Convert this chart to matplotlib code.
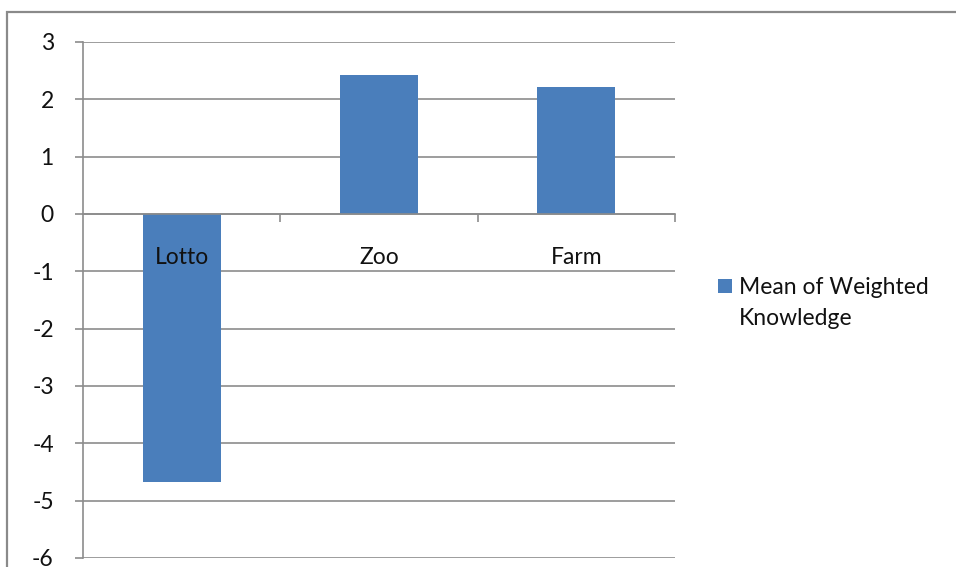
import matplotlib
matplotlib.use("Agg")
import matplotlib.pyplot as plt
from matplotlib.patches import Rectangle
from matplotlib.ticker import FixedLocator, NullFormatter

categories = ["Lotto", "Zoo", "Farm"]
values = [-4.67, 2.43, 2.22]
series_name = "Mean of Weighted\nKnowledge"
y_ticks = [3, 2, 1, 0, -1, -2, -3, -4, -5, -6]

W, H = 956, 567
plt.rcParams["font.family"] = ["Lato", "DejaVu Sans"]
fig = plt.figure(figsize=(W / 100, H / 100), dpi=100)

bar_color = "#4A7EBB"
grid_color = "#8C8C8C"
text_color = "#111111"

# chart frame
fig.patches.append(Rectangle((7 / W, -0.1), 1.2, 1 - 12 / H + 0.1,
                             transform=fig.transFigure, fill=False,
                             edgecolor="#8A8A8A", linewidth=1.6))

ax = fig.add_axes([83 / W, 1 - 558 / H, (675 - 83) / W, (558 - 42) / H])
x = list(range(len(categories)))
ax.bar(x, values, width=0.395, color=bar_color, zorder=1)
ax.set_xlim(-0.5, len(categories) - 0.5)
ax.set_ylim(-6, 3)

ax.set_yticks(y_ticks)
ax.set_yticklabels([str(t) for t in y_ticks])
ax.yaxis.grid(True, color=grid_color, linewidth=1.2)
ax.set_axisbelow(True)

# category axis sits on the zero line
for s in ["top", "right"]:
    ax.spines[s].set_visible(False)
ax.spines["left"].set_color(grid_color)
ax.spines["left"].set_linewidth(1.2)
ax.spines["bottom"].set_position(("data", 0))
ax.spines["bottom"].set_color(grid_color)
ax.spines["bottom"].set_linewidth(1.2)

ax.set_xticks(x)
ax.set_xticklabels(categories)
ax.xaxis.set_minor_locator(FixedLocator([0.5, 1.5, 2.5]))
ax.xaxis.set_minor_formatter(NullFormatter())
ax.tick_params(axis="x", which="major", length=0, pad=24, labelsize=16.5,
               labelcolor=text_color)
ax.tick_params(axis="x", which="minor", length=6, width=1.2, color=grid_color,
               direction="out")
ax.tick_params(axis="y", length=6, width=1.2, color=grid_color, pad=15,
               labelsize=16.5, labelcolor=text_color)
ax.xaxis.set_zorder(3)
ax.yaxis.set_zorder(0.5)

# legend: swatch beside the first line of the series name
fig.patches.append(Rectangle((718 / W, 1 - 293 / H), 14 / W, 14 / H,
                             transform=fig.transFigure, facecolor=bar_color,
                             edgecolor="none"))
fig.text(739 / W, 1 - 277 / H, series_name, ha="left", va="top",
         fontsize=16.5, color=text_color, linespacing=1.6,
         transform=fig.transFigure)

fig.savefig("out.png", dpi=100)
